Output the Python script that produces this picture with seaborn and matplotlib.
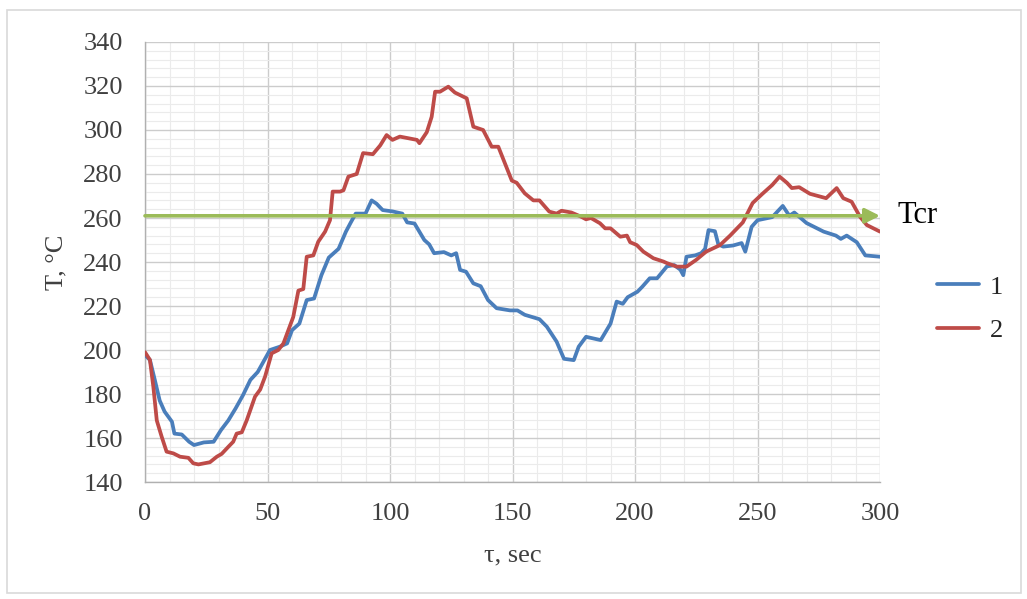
import pandas as pd
import seaborn as sns
import matplotlib.pyplot as plt
from matplotlib.ticker import MultipleLocator
from matplotlib.patches import Rectangle

# curve 1 (blue)
t1 = [0, 2, 4, 6, 8, 11, 12, 15, 18, 20, 24, 28, 31, 34, 37, 40, 43, 46, 48, 51,
      55, 58, 60, 63, 66, 69, 72, 75, 79, 82, 84, 86, 90, 92.5, 94.5, 97, 101, 105, 107, 110,
      114, 116, 118, 122, 125, 127, 128.6, 131, 134, 137, 140, 143.5, 149, 152, 155, 158, 161, 164, 168, 171,
      175, 177, 180, 186, 190, 192.5, 195, 197, 201, 203, 206, 209, 213, 216, 218.5, 219.7, 221, 224.5, 227, 228.6,
      230, 232.6, 234, 236, 240, 243.5, 245, 247.6, 250, 256, 260.3, 263, 265, 270, 277, 282, 284, 286.4, 290.5, 294,
      300]
temp1 = [197.7, 195.5, 186.4, 177, 172, 167.4, 162, 161.6, 158.3, 156.8, 158, 158.3, 163.6, 168, 173.5, 179.5, 186.4, 190, 194, 200,
         201.5, 203, 209, 212, 222.7, 223.4, 234, 242, 246, 253.8, 258, 262, 262, 268, 266.5, 263.6, 263, 262, 258, 257.5,
         250, 248, 244, 244.5, 243, 244, 236.4, 235.6, 230.3, 229, 222.7, 219, 218, 218, 216, 215, 214, 210.6, 203.8, 196,
         195.4, 201.5, 206, 204.5, 212, 222, 221, 224, 226.5, 228.8, 232.6, 232.6, 238, 238.6, 236.5, 234, 242.4, 243, 244, 246,
         254.5, 254, 248, 247, 247.5, 248.6, 244.7, 256, 259, 260.4, 265.5, 261, 262.5, 257.7, 253.8, 252, 250.5, 252, 249, 243,
         242.4]

# curve 2 (red)
t2 = [0, 2, 3.4, 4.8, 6.8, 8.8, 11.6, 14.3, 17.7, 19.7, 21.8, 26.5, 29.3, 31.3, 34, 36, 37.4, 39.5, 41.5, 44.9,
      47, 49, 51.7, 54.4, 56.5, 58.5, 60.5, 62.6, 64.6, 66, 68.7, 70.7, 73.5, 75.5, 76.6, 79.6, 81, 83, 86.4, 89,
      93, 96, 98.6, 101, 104, 111, 112, 115, 117, 118.4, 120.4, 123.8, 126.5, 131.3, 134, 138, 141.5, 144.2, 149.7, 151.7,
      155, 158.5, 161, 165, 168, 170, 174, 178, 180, 182, 185.7, 187.8, 190, 194, 196.7, 198, 200.7, 203.4, 207.5, 211.6,
      213, 217, 221, 225, 229, 234.7, 238.8, 244, 248, 252, 256, 259, 262, 264, 267, 271.4, 278, 282.3, 285, 288.4,
      291.8, 294.6, 300]
temp2 = [199, 195.5, 183.3, 168, 160.6, 153.8, 153, 151.5, 151, 148.5, 148, 149, 151.5, 152.8, 156, 158.3, 162, 162.6, 168, 178.8,
         182, 187.9, 198.5, 200, 203, 209, 215, 227, 227.7, 242.4, 243, 249.2, 253.8, 259, 272, 272, 272.6, 278.8, 280, 289.5,
         289, 293, 297.7, 295.5, 297, 295.5, 294, 299, 306, 317.4, 317.4, 319.7, 317, 314.4, 301.5, 300, 292.4, 292.4, 277, 276,
         271.2, 268, 268, 262.9, 262, 263.3, 262.5, 260.6, 259.4, 260, 257.6, 255.3, 255.3, 251.5, 252, 249, 247.7, 244.7, 241.7, 240.2,
         239.5, 237.9, 237.9, 241, 244.7, 247.7, 252, 258, 266.8, 271, 275, 278.8, 276, 273.6, 274, 271, 269, 273.6, 269, 267.4,
         260.6, 256.8, 253.8]

t_cr = 261
labels = ['1', '2']

df = pd.concat([
    pd.DataFrame({'t': t1, 'T': temp1, 'series': labels[0]}),
    pd.DataFrame({'t': t2, 'T': temp2, 'series': labels[1]}),
], ignore_index=True)

sns.set_style("white")
plt.rcParams['font.family'] = ['Liberation Serif', 'DejaVu Serif']
txt = '#404040'

fig = plt.figure(figsize=(10.27, 5.99), dpi=100)
ax = fig.add_axes([0.1412, 0.1953, 0.7157, 0.7346])

sns.lineplot(data=df, x='t', y='T', hue='series', palette=['#4a7ebb', '#be4b48'],
             linewidth=2.7, estimator=None, sort=False, ax=ax, zorder=3,
             solid_joinstyle='round', solid_capstyle='round')

# critical temperature arrow
ax.annotate('', xy=(300, t_cr), xytext=(0, t_cr),
            arrowprops=dict(arrowstyle='-|>', color='#9bbb59', lw=2.6,
                            mutation_scale=22, shrinkA=0, shrinkB=0),
            zorder=4, annotation_clip=False)
ax.text(307, t_cr, 'Tcr', fontsize=22, color='black', va='center', ha='left', clip_on=False)

ax.set_xlim(0, 300)
ax.set_ylim(140, 340)
ax.xaxis.set_major_locator(MultipleLocator(50))
ax.xaxis.set_minor_locator(MultipleLocator(10))
ax.yaxis.set_major_locator(MultipleLocator(20))
ax.yaxis.set_minor_locator(MultipleLocator(4))
ax.grid(which='major', color='#cccccc', lw=1.0)
ax.grid(which='minor', color='#ebebeb', lw=0.8)
ax.set_axisbelow(True)

for s in ['top', 'right']:
    ax.spines[s].set_visible(False)
for s in ['left', 'bottom']:
    ax.spines[s].set_color('#b0b0b0')
    ax.spines[s].set_linewidth(1.0)

ax.tick_params(which='major', direction='out', length=7, width=1, color='#b0b0b0',
               labelsize=19, labelcolor=txt)
ax.tick_params(axis='y', which='major', pad=9)
ax.tick_params(axis='x', which='major', pad=8)
ax.tick_params(which='minor', length=0)

ax.set_xlabel('τ, sec', fontsize=19, color=txt, labelpad=14)
ax.set_ylabel('T, °C', fontsize=19, color=txt, labelpad=11)

handles, labs = ax.get_legend_handles_labels()
ax.legend(handles, labs, loc='center left', bbox_to_anchor=(0.912, 0.485),
          bbox_transform=fig.transFigure, frameon=False, fontsize=19,
          handlelength=1.6, handletextpad=0.4, labelspacing=0.75,
          borderpad=0, borderaxespad=0)

fig.patches.append(Rectangle((0.007, 0.01), 0.987, 0.973, transform=fig.transFigure,
                             fill=False, edgecolor='#d9d9d9', lw=1.2))

plt.savefig('out.png', dpi=100)
